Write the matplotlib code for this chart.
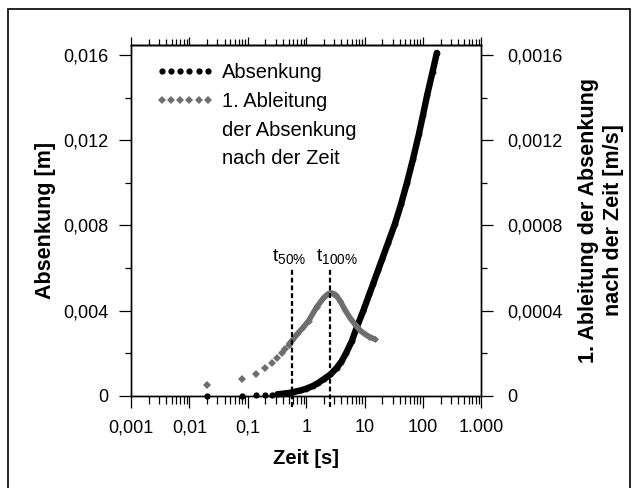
import numpy as np
import matplotlib.pyplot as plt
from matplotlib.lines import Line2D
from matplotlib.patches import Rectangle
from matplotlib.ticker import FixedLocator, FixedFormatter, LogLocator, NullFormatter, MultipleLocator

plt.rcParams['font.family'] = 'Liberation Sans'
plt.rcParams['mathtext.fontset'] = 'custom'
plt.rcParams['mathtext.rm'] = 'Liberation Sans'
plt.rcParams['mathtext.it'] = 'Liberation Sans:italic'
plt.rcParams['mathtext.bf'] = 'Liberation Sans:bold'

#Absenkung [m] - single early readings
t_abs_early = [0.02, 0.08, 0.14, 0.2, 0.26]
s_abs_early = [0.0, 0.0, 0.00002, 0.00003, 0.00005]
#Absenkung [m] - dense readings
t_abs = [0.32, 0.38, 0.44, 0.5, 0.6, 0.8, 1.0, 1.3, 1.6, 2.0, 2.6, 3.3, 4.0, 4.8,
         6.0, 7.3, 9.5, 12, 14, 17, 20, 25, 33, 42, 53, 67, 85, 100, 117, 145, 172]
s_abs = [0.00007, 0.00009, 0.00011, 0.00013, 0.00017, 0.00025, 0.00033, 0.00046,
         0.0006, 0.00078, 0.001, 0.0013, 0.0016, 0.002, 0.00255, 0.0032, 0.004,
         0.00476, 0.00526, 0.0059, 0.00643, 0.00716, 0.00807, 0.009, 0.01, 0.0111,
         0.0123, 0.0132, 0.0141, 0.0152, 0.0161]

#1. Ableitung [m/s] - single early values
t_der_early = [0.02, 0.08, 0.14, 0.2, 0.26, 0.32, 0.38, 0.44]
d_der_early = [0.50e-4, 0.77e-4, 1.03e-4, 1.30e-4, 1.52e-4, 1.78e-4, 2.01e-4, 2.21e-4]
#1. Ableitung [m/s] - dense values
t_der = [0.5, 0.58, 0.7, 0.89, 1.1, 1.5, 1.95, 2.3, 2.6, 2.9, 3.2, 3.8, 4.6, 5.6, 7.0, 8.3, 10, 12, 15]
d_der = [2.40e-4, 2.61e-4, 2.90e-4, 3.21e-4, 3.52e-4, 4.15e-4, 4.57e-4, 4.76e-4, 4.83e-4,
         4.80e-4, 4.73e-4, 4.46e-4, 4.03e-4, 3.66e-4, 3.31e-4, 3.07e-4, 2.90e-4, 2.77e-4, 2.65e-4]

#t50 / t100 markers
t_marks = [0.58, 2.6]
t_mark_labels = [r'$\mathrm{t_{50\%}}$', r'$\mathrm{t_{100\%}}$']
t_label_dx = [-3, 7]   # pixel nudge of the labels

x_ticks = [0.001, 0.01, 0.1, 1, 10, 100, 1000]
x_tick_labels = ['0,001', '0,01', '0,1', '1', '10', '100', '1.000']
y_ticks = [0, 0.004, 0.008, 0.012, 0.016]
y_tick_labels = ['0', '0,004', '0,008', '0,012', '0,016']
y2_ticks = [0, 0.0004, 0.0008, 0.0012, 0.0016]
y2_tick_labels = ['0', '0,0004', '0,0008', '0,0012', '0,0016']

legend_labels = ['Absenkung', '1. Ableitung', 'der Absenkung', 'nach der Zeit']

gray = '#6e6e6e'

fig = plt.figure(figsize=(6.38, 4.88), dpi=100)
ax = fig.add_axes([0.2053, 0.1891, 0.5494, 0.7187])
ax.set_xscale('log')
ax.set_xlim(0.001, 1000)
ax.set_ylim(0, 0.01647)
ax2 = ax.twinx()
ax2.set_ylim(0, 0.001647)

for a in (ax, ax2):
    for sp in a.spines.values():
        sp.set_linewidth(1.0)

#x axis
ax.xaxis.set_major_locator(FixedLocator(x_ticks))
ax.xaxis.set_major_formatter(FixedFormatter(x_tick_labels))
ax.xaxis.set_minor_locator(LogLocator(base=10, subs=np.arange(2, 10), numticks=20))
ax.xaxis.set_minor_formatter(NullFormatter())
ax.tick_params(axis='x', which='major', direction='out', length=8.5, width=0.9, pad=8.5, labelsize=13)
ax.tick_params(axis='x', which='minor', direction='out', length=5.5, width=0.9)

#top ticks
secax = ax.secondary_xaxis('top')
secax.xaxis.set_major_locator(FixedLocator(x_ticks))
secax.xaxis.set_major_formatter(NullFormatter())
secax.xaxis.set_minor_locator(LogLocator(base=10, subs=np.arange(2, 10), numticks=20))
secax.xaxis.set_minor_formatter(NullFormatter())
secax.tick_params(axis='x', which='major', direction='out', length=6, width=0.9)
secax.tick_params(axis='x', which='minor', direction='out', length=4.2, width=0.9)
secax.spines['top'].set_linewidth(1.0)

#left y
ax.yaxis.set_major_locator(FixedLocator(y_ticks))
ax.yaxis.set_major_formatter(FixedFormatter(y_tick_labels))
ax.yaxis.set_minor_locator(MultipleLocator(0.002))
ax.tick_params(axis='y', which='major', direction='out', length=8.5, width=0.9, pad=8, labelsize=13)
ax.tick_params(axis='y', which='minor', direction='out', length=4, width=0.9)

#right y
ax2.yaxis.set_major_locator(FixedLocator(y2_ticks))
ax2.yaxis.set_major_formatter(FixedFormatter(y2_tick_labels))
ax2.yaxis.set_minor_locator(MultipleLocator(0.0002))
ax2.tick_params(axis='y', which='major', direction='out', length=8.5, width=0.9, pad=10, labelsize=13)
ax2.tick_params(axis='y', which='minor', direction='out', length=4.5, width=0.9)

#data
ax.plot(t_abs_early, s_abs_early, 'o', color='black', ms=4.5, mew=0, clip_on=False, zorder=3)
ax.plot(t_abs, s_abs, '-o', color='black', lw=4.6, ms=4.2, mew=0, clip_on=False, zorder=3,
        solid_capstyle='round', solid_joinstyle='round')
ax2.plot(t_der_early, d_der_early, 'D', color=gray, ms=4.3, mew=0, clip_on=False)
ax2.plot(t_der, d_der, '-D', color=gray, lw=4.0, ms=3.5, mew=0,
         solid_capstyle='round', solid_joinstyle='round')

#t50 / t100 lines and labels
ax2.vlines(t_marks, -0.00053, 0.006, colors='black', linestyles=(0, (2.2, 1.3)), lw=1.6,
           transform=ax.transData, clip_on=False)
for t, lab, dx in zip(t_marks, t_mark_labels, t_label_dx):
    ax2.annotate(lab, xy=(t, 0.0061), xycoords=ax.transData, xytext=(dx, 0),
                 textcoords='offset pixels', ha='center', va='bottom', fontsize=14)

#axis labels
ax.set_ylabel('Absenkung [m]', fontsize=15.5, fontweight='bold', labelpad=5)
ax.set_xlabel('Zeit [s]', fontsize=14.5, fontweight='bold', labelpad=9)
ax2.set_ylabel('1. Ableitung der Absenkung\nnach der Zeit [m/s]', fontsize=15.5,
               fontweight='bold', labelpad=11, multialignment='center', linespacing=1.25)

#legend (continuation lines get empty handles)
handles = [Line2D([], [], ls='none', marker='o', color='black', ms=4.5, mew=0),
           Line2D([], [], ls='none', marker='D', color=gray, ms=4.3, mew=0),
           Line2D([], [], ls='none'),
           Line2D([], [], ls='none')]
ax2.legend(handles, legend_labels, loc='upper left', bbox_to_anchor=(0.070, 0.949),
           frameon=False, numpoints=6, handlelength=2.9, handletextpad=0.4,
           labelspacing=0.49, borderpad=0, borderaxespad=0, fontsize=14.5)

#outer frame
fig.add_artist(Rectangle((0.0125, -0.02), 0.975, 1.0016, transform=fig.transFigure,
                         fill=False, lw=1.2, ec='black'))

plt.savefig('out.png', dpi=100)
